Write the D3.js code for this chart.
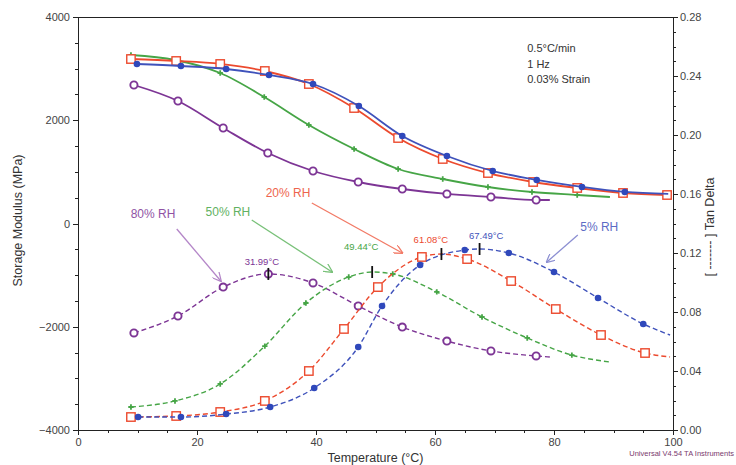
<!DOCTYPE html>
<meta charset="utf-8">
<style>
  body { margin: 0; background: #fff; }
  text { font-family: "Liberation Sans", Arial, sans-serif; }
  .axis path, .axis line { stroke: #222; shape-rendering: crispEdges; }
  .axis text { fill: #444; font-size: 11px; }
</style>
<body>
<script src="https://d3js.org/d3.v7.min.js"></script>
<script>

// storage modulus (MPa) vs temperature (°C), solid lines
var blueModT = [9.9, 17.3, 24.9, 32.1, 39.5, 47.2, 54.5, 62.0, 69.7, 77.1, 84.7, 91.9, 99.2],
    blueModE = [3090, 3051, 2993, 2877, 2702, 2276, 1695, 1308, 1017, 843, 708, 611, 572],
    blueModMark = [1,1,1,1,1,1,1,1,1,1,1,1,0];
var redModT = [8.9, 16.5, 23.9, 31.4, 38.8, 46.4, 53.8, 61.3, 68.9, 76.5, 83.9, 91.6, 99.0],
    redModE = [3186, 3148, 3090, 2954, 2702, 2237, 1656, 1250, 978, 804, 688, 591, 552],
    redModMark = [1,1,1,1,1,1,1,1,1,1,1,1,1];
var greenModT = [8.9, 16.3, 23.9, 31.3, 38.8, 46.4, 53.8, 61.3, 68.9, 76.3, 83.9, 89.4],
    greenModE = [3264, 3167, 2915, 2450, 1908, 1443, 1056, 862, 707, 610, 552, 513],
    greenModMark = [1,1,1,1,1,1,1,1,1,1,1,0];
var purpleModT = [9.4, 16.8, 24.4, 31.9, 39.5, 47.1, 54.5, 62.0, 69.4, 77.0, 79.3],
    purpleModE = [2683, 2373, 1850, 1366, 1017, 804, 668, 572, 513, 455, 455],
    purpleModMark = [1,1,1,1,1,1,1,1,1,1,0];

// tan delta vs temperature, dashed lines
var blueTanT = [10.1, 17.3, 24.9, 32.3, 39.7, 47.1, 51.1, 57.5, 65.0, 67.49, 72.4, 80.0, 87.4, 95.0, 99.5],
    blueTan = [0.0088, 0.0088, 0.0108, 0.0156, 0.0285, 0.0563, 0.0841, 0.1119, 0.1220, 0.1227, 0.1200, 0.1071, 0.0895, 0.0719, 0.0644],
    blueTanMark = [1,1,1,1,1,1,1,1,1,0,1,1,1,1,0];
var redTanT = [8.9, 16.5, 23.9, 31.4, 38.8, 44.7, 50.4, 57.8, 61.08, 65.4, 72.8, 80.3, 87.9, 95.3, 99.5],
    redTan = [0.0088, 0.0095, 0.0122, 0.0197, 0.0400, 0.0685, 0.0969, 0.1173, 0.1193, 0.1159, 0.1010, 0.0820, 0.0644, 0.0522, 0.0495],
    redTanMark = [1,1,1,1,1,1,1,1,0,1,1,1,1,1,0];
var greenTanT = [8.9, 16.3, 23.9, 31.4, 38.3, 45.5, 49.44, 52.9, 60.3, 67.9, 75.5, 83.0, 89.4],
    greenTan = [0.0156, 0.0197, 0.0312, 0.0569, 0.0861, 0.1037, 0.1071, 0.1058, 0.0936, 0.0766, 0.0624, 0.0508, 0.0461],
    greenTanMark = [1,1,1,1,1,1,0,1,1,1,1,1,0];
var purpleTanT = [9.4, 16.8, 24.4, 31.99, 39.5, 47.1, 54.5, 62.0, 69.4, 77.0, 79.3],
    purpleTan = [0.0658, 0.0773, 0.0969, 0.1058, 0.0997, 0.0841, 0.0698, 0.0603, 0.0536, 0.0502, 0.0495],
    purpleTanMark = [1,1,1,1,1,1,1,1,1,1,0];

// tan delta peaks
var peakT = [31.99, 49.44, 61.08, 67.49],
    peakTan = [0.1058, 0.1071, 0.1193, 0.1227],
    peakLabels = ["31.99°C", "49.44°C", "61.08°C", "67.49°C"],
    peakLabelT = [30.9, 47.6, 59.3, 68.6],
    peakLabelTan = [0.1139, 0.1241, 0.1288, 0.1315];

// RH labels (temperature, modulus) and arrows
var rhLabels = ["80% RH", "50% RH", "20% RH", "5% RH"],
    rhLabelT = [12.6, 25.2, 35.3, 87.6],
    rhLabelE = [184, 223, 591, -68],
    rhArrowFrom = [[16.6, -106], [29.2, 68], [39.3, 397], [84.0, -223]],
    rhArrowTo = [[24.0, -1114], [42.7, -939], [54.5, -571], [78.8, -746]];

var xTicks = [0, 20, 40, 60, 80, 100],
    yLeftTicks = [-4000, -2000, 0, 2000, 4000],
    yRightTicks = [0, 0.04, 0.08, 0.12, 0.16, 0.20, 0.24, 0.28];

var colors = { blue: "#3f52bb", red: "#ec4a2e", green: "#46a546", purple: "#7d3595" },
    arrowColors = ["#b486c8", "#79c179", "#f27a66", "#8c8fd2"],
    textColors = [colors.purple, colors.green, colors.red, colors.blue],
    peakColors = [colors.purple, colors.green, colors.red, colors.blue];

var width = 736, height = 465,
    margin = { top: 17, right: 63, bottom: 35, left: 78 },
    iw = width - margin.left - margin.right,
    ih = height - margin.top - margin.bottom;

var svg = d3.select("body").append("svg")
  .attr("width", width)
  .attr("height", height);

var g = svg.append("g")
  .attr("transform", "translate(" + margin.left + "," + margin.top + ")");

var x = d3.scaleLinear().domain([0, 100]).range([0, iw]);
var yL = d3.scaleLinear().domain([-4000, 4000]).range([ih, 0]);
var yR = d3.scaleLinear().domain([0, 0.28]).range([ih, 0]);

// minor ticks first, then major
g.append("g").attr("class", "axis")
  .attr("transform", "translate(0," + ih + ")")
  .call(d3.axisBottom(x).tickValues(d3.range(0, 101, 5)).tickSize(3).tickFormat(""));
g.append("g").attr("class", "axis")
  .attr("transform", "translate(0," + ih + ")")
  .call(d3.axisBottom(x).tickValues(xTicks).tickSize(5).tickPadding(3));
g.append("g").attr("class", "axis")
  .call(d3.axisLeft(yL).tickValues(d3.range(-4000, 4001, 500)).tickSize(3).tickFormat(""));
g.append("g").attr("class", "axis")
  .call(d3.axisLeft(yL).tickValues(yLeftTicks).tickSize(5).tickPadding(3).tickFormat(d3.format("d")));
g.append("g").attr("class", "axis")
  .attr("transform", "translate(" + iw + ",0)")
  .call(d3.axisRight(yR).tickValues(d3.range(0, 0.2801, 0.01)).tickSize(3).tickFormat(""));
g.append("g").attr("class", "axis")
  .attr("transform", "translate(" + iw + ",0)")
  .call(d3.axisRight(yR).tickValues(yRightTicks).tickSize(5).tickPadding(2).tickFormat(d3.format(".2f")));
g.append("line")
  .attr("x1", 0).attr("x2", iw).attr("y1", 0).attr("y2", 0)
  .attr("stroke", "#222").attr("shape-rendering", "crispEdges");

// axis titles
svg.append("text")
  .attr("transform", "translate(22," + (margin.top + ih / 2 - 3) + ")rotate(-90)")
  .attr("text-anchor", "middle")
  .attr("font-size", 12.5).attr("fill", "#333")
  .text("Storage Modulus (MPa)");
svg.append("text")
  .attr("transform", "translate(714," + (margin.top + 210) + ")rotate(-90)")
  .attr("text-anchor", "middle")
  .attr("font-size", 12.5).attr("fill", "#333")
  .text("[ ------- ] Tan Delta");
svg.append("text")
  .attr("x", margin.left + iw / 2).attr("y", 462)
  .attr("text-anchor", "middle")
  .attr("font-size", 12.5).attr("fill", "#333")
  .text("Temperature (°C)");
svg.append("text")
  .attr("x", 734).attr("y", 456)
  .attr("text-anchor", "end")
  .attr("font-size", 7.5).attr("fill", "#7a3a6e")
  .text("Universal V4.54 TA Instruments");

// test conditions
var cond = ["0.5°C/min", "1 Hz", "0.03% Strain"];
g.selectAll(".cond").data(cond).enter().append("text")
  .attr("x", x(75.5))
  .attr("y", function(d, i) { return 35 + i * 15.5; })
  .attr("font-size", 11).attr("fill", "#333")
  .text(function(d) { return d; });

function pts(ts, vs, ms) {
  return ts.map(function(t, i) { return { t: t, v: vs[i], m: ms[i] }; });
}

var series = [
  { key: "blue", mod: pts(blueModT, blueModE, blueModMark), tan: pts(blueTanT, blueTan, blueTanMark), marker: "dot" },
  { key: "red", mod: pts(redModT, redModE, redModMark), tan: pts(redTanT, redTan, redTanMark), marker: "square" },
  { key: "green", mod: pts(greenModT, greenModE, greenModMark), tan: pts(greenTanT, greenTan, greenTanMark), marker: "cross" },
  { key: "purple", mod: pts(purpleModT, purpleModE, purpleModMark), tan: pts(purpleTanT, purpleTan, purpleTanMark), marker: "circle" }
];

var lineL = d3.line().curve(d3.curveMonotoneX)
  .x(function(d) { return x(d.t); }).y(function(d) { return yL(d.v); });
var lineR = d3.line().curve(d3.curveMonotoneX)
  .x(function(d) { return x(d.t); }).y(function(d) { return yR(d.v); });

function drawMarkers(sel, data, s, yScale) {
  var c = colors[s.key];
  var m = sel.selectAll(null).data(data.filter(function(d) { return d.m; })).enter();
  var px = function(d) { return x(d.t); }, py = function(d) { return yScale(d.v); };
  if (s.marker === "dot") {
    m.append("circle").attr("cx", px).attr("cy", py).attr("r", 3.3).attr("fill", "#2f48bb");
  } else if (s.marker === "square") {
    m.append("rect")
      .attr("x", function(d) { return px(d) - 4.2; }).attr("y", function(d) { return py(d) - 4.2; })
      .attr("width", 8.4).attr("height", 8.4)
      .attr("fill", "#fff").attr("stroke", c).attr("stroke-width", 1.4);
  } else if (s.marker === "circle") {
    m.append("circle").attr("cx", px).attr("cy", py).attr("r", 3.6)
      .attr("fill", "#fff").attr("stroke", c).attr("stroke-width", 1.9);
  } else {
    m.append("path")
      .attr("transform", function(d) { return "translate(" + px(d) + "," + py(d) + ")"; })
      .attr("d", d3.symbol(d3.symbolCross, 16))
      .attr("fill", c);
  }
}

// draw in back-to-front order
series.slice().reverse().forEach(function(s) {
  var c = colors[s.key];
  g.append("path").datum(s.mod)
    .attr("d", lineL).attr("fill", "none")
    .attr("stroke", c).attr("stroke-width", 1.8);
  g.append("path").datum(s.tan)
    .attr("d", lineR).attr("fill", "none")
    .attr("stroke", c).attr("stroke-width", 1.4)
    .attr("stroke-dasharray", "5,3");
  drawMarkers(g, s.mod, s, yL);
  drawMarkers(g, s.tan, s, yR);
});

// peak ticks and labels
g.selectAll(".peak").data(peakT).enter().append("line")
  .attr("x1", function(d) { return x(d); }).attr("x2", function(d) { return x(d); })
  .attr("y1", function(d, i) { return yR(peakTan[i]) - 6; })
  .attr("y2", function(d, i) { return yR(peakTan[i]) + 6; })
  .attr("stroke", "#111").attr("stroke-width", 1.8);
g.selectAll(".peaklabel").data(peakLabels).enter().append("text")
  .attr("x", function(d, i) { return x(peakLabelT[i]); })
  .attr("y", function(d, i) { return yR(peakLabelTan[i]); })
  .attr("dy", "0.35em")
  .attr("text-anchor", "middle")
  .attr("font-size", 9.5)
  .attr("fill", function(d, i) { return peakColors[i]; })
  .text(function(d) { return d; });

// RH labels with arrows
var defs = svg.append("defs");
arrowColors.forEach(function(c, i) {
  defs.append("marker")
    .attr("id", "arr" + i)
    .attr("viewBox", "0 0 10 10").attr("refX", 9).attr("refY", 5)
    .attr("markerWidth", 9).attr("markerHeight", 9)
    .attr("markerUnits", "userSpaceOnUse")
    .attr("orient", "auto")
    .append("path").attr("d", "M0,0L10,5L0,10")
    .attr("fill", "none").attr("stroke", c).attr("stroke-width", 1.4);
});
g.selectAll(".rharrow").data(rhArrowFrom).enter().append("line")
  .attr("x1", function(d) { return x(d[0]); }).attr("y1", function(d) { return yL(d[1]); })
  .attr("x2", function(d, i) { return x(rhArrowTo[i][0]); })
  .attr("y2", function(d, i) { return yL(rhArrowTo[i][1]); })
  .attr("stroke", function(d, i) { return arrowColors[i]; })
  .attr("stroke-width", 1.3)
  .attr("marker-end", function(d, i) { return "url(#arr" + i + ")"; });
g.selectAll(".rhlabel").data(rhLabels).enter().append("text")
  .attr("x", function(d, i) { return x(rhLabelT[i]); })
  .attr("y", function(d, i) { return yL(rhLabelE[i]); })
  .attr("dy", "0.35em")
  .attr("text-anchor", "middle")
  .attr("font-size", 12)
  .attr("fill", function(d, i) { return textColors[i]; })
  .attr("opacity", 0.85)
  .text(function(d) { return d; });

</script>
</body>
</html>
